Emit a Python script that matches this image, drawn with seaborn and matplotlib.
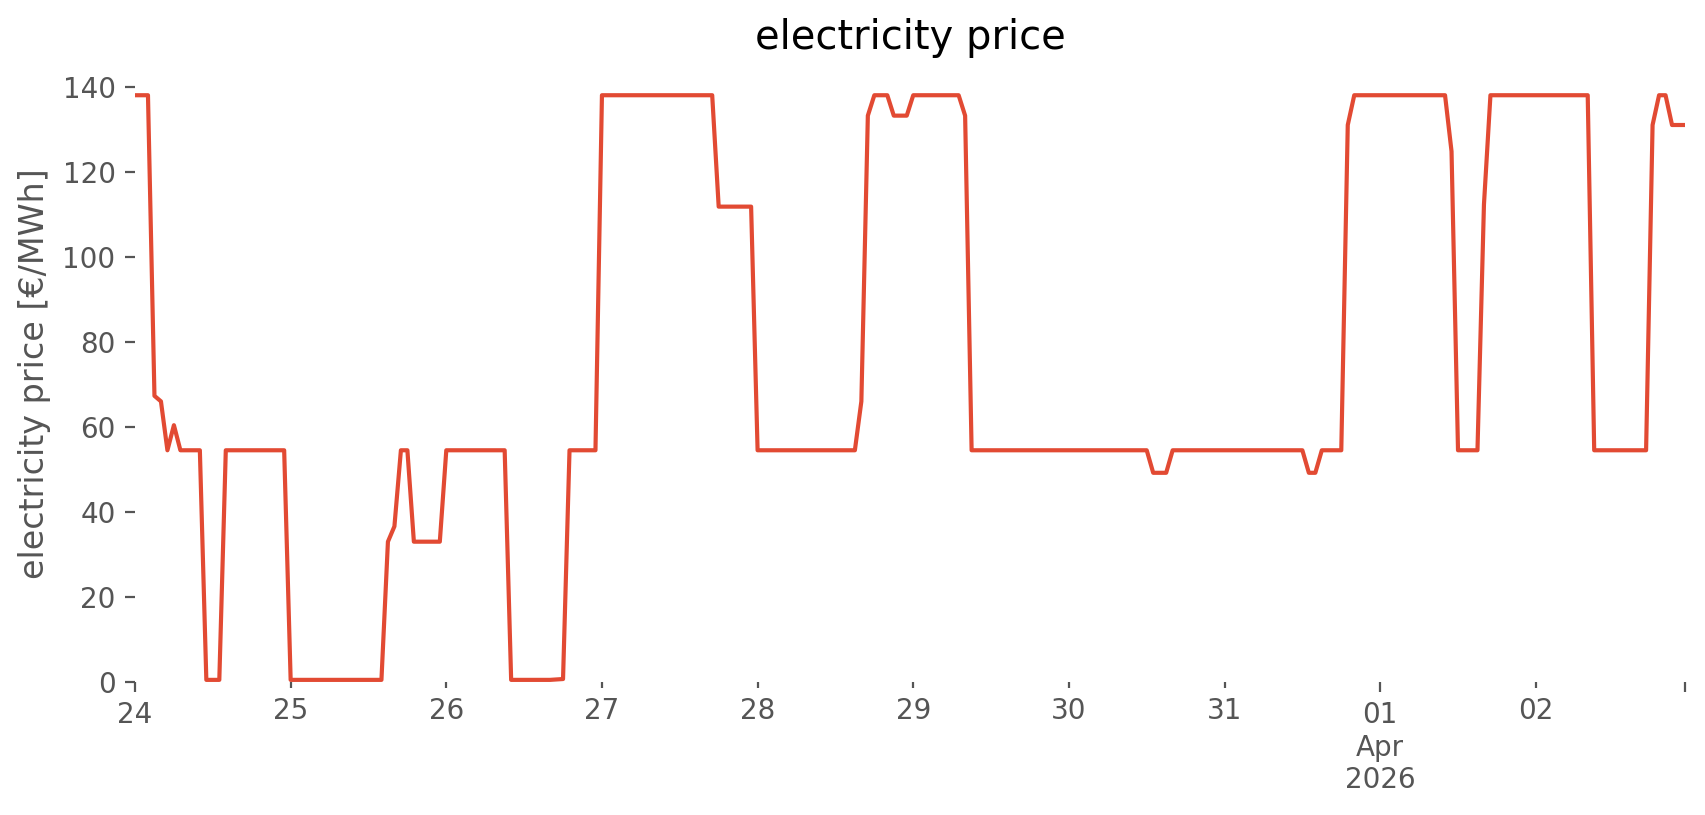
import numpy as np
import pandas as pd
import seaborn as sns
import matplotlib
matplotlib.use("Agg")
import matplotlib.pyplot as plt
import matplotlib.dates as mdates
from matplotlib.ticker import FixedLocator, FixedFormatter

# --- Data: hourly price [EUR/MWh], one list per day ---
START = "2026-03-24 00:00"
MAR24 = [138, 138, 138, 67.3, 66.0, 54.5, 60.4, 54.5, 54.5, 54.5, 54.5, 0.5,
         0.5, 0.5, 54.5, 54.5, 54.5, 54.5, 54.5, 54.5, 54.5, 54.5, 54.5, 54.5]
MAR25 = [0.5, 0.5, 0.5, 0.5, 0.5, 0.5, 0.5, 0.5, 0.5, 0.5, 0.5, 0.5,
         0.5, 0.5, 0.5, 33.0, 36.6, 54.5, 54.5, 33.0, 33.0, 33.0, 33.0, 33.0]
MAR26 = [54.5, 54.5, 54.5, 54.5, 54.5, 54.5, 54.5, 54.5, 54.5, 54.5, 0.5, 0.5,
         0.5, 0.5, 0.5, 0.5, 0.5, 0.6, 0.7, 54.5, 54.5, 54.5, 54.5, 54.5]
MAR27 = [138, 138, 138, 138, 138, 138, 138, 138, 138, 138, 138, 138,
         138, 138, 138, 138, 138, 138, 111.8, 111.8, 111.8, 111.8, 111.8, 111.8]
MAR28 = [54.5, 54.5, 54.5, 54.5, 54.5, 54.5, 54.5, 54.5, 54.5, 54.5, 54.5, 54.5,
         54.5, 54.5, 54.5, 54.5, 66.0, 133.2, 138, 138, 138, 133.2, 133.2, 133.2]
MAR29 = [138, 138, 138, 138, 138, 138, 138, 138, 133.2, 54.5, 54.5, 54.5,
         54.5, 54.5, 54.5, 54.5, 54.5, 54.5, 54.5, 54.5, 54.5, 54.5, 54.5, 54.5]
MAR30 = [54.5, 54.5, 54.5, 54.5, 54.5, 54.5, 54.5, 54.5, 54.5, 54.5, 54.5, 54.5,
         54.5, 49.2, 49.2, 49.2, 54.5, 54.5, 54.5, 54.5, 54.5, 54.5, 54.5, 54.5]
MAR31 = [54.5, 54.5, 54.5, 54.5, 54.5, 54.5, 54.5, 54.5, 54.5, 54.5, 54.5, 54.5,
         54.5, 49.2, 49.2, 54.5, 54.5, 54.5, 54.5, 131.0, 138, 138, 138, 138]
APR01 = [138, 138, 138, 138, 138, 138, 138, 138, 138, 138, 138, 124.8,
         54.5, 54.5, 54.5, 54.5, 112.3, 138, 138, 138, 138, 138, 138, 138]
APR02 = [138, 138, 138, 138, 138, 138, 138, 138, 138, 54.5, 54.5, 54.5,
         54.5, 54.5, 54.5, 54.5, 54.5, 54.5, 131.0, 138, 138, 131.0, 131.0, 131.0]

MINOR_DAYS = ["2026-03-25", "2026-03-26", "2026-03-27", "2026-03-28",
              "2026-03-29", "2026-03-30", "2026-03-31", "2026-04-02"]
MINOR_LABELS = ["25", "26", "27", "28", "29", "30", "31", "02"]
MAJOR_DAYS = ["2026-03-24", "2026-04-01"]
MAJOR_LABELS = ["24", "01\nApr\n2026", ""]

LINE_COLOR = "#E24A33"
TEXT_GRAY = "#555555"

prices = MAR24 + MAR25 + MAR26 + MAR27 + MAR28 + MAR29 + MAR30 + MAR31 + APR01 + APR02
times = pd.date_range(START, periods=len(prices), freq="h")
df = pd.DataFrame({"time": times, "price": prices})

sns.set_style("white")
plt.rcParams["font.family"] = ["DejaVu Sans"]

fig = plt.figure(figsize=(1706 / 200, 815 / 200), dpi=200)
ax = fig.add_axes([135 / 1706, 1 - 682 / 815, 1550 / 1706, (682 - 66) / 815])

sns.lineplot(data=df, x="time", y="price", color=LINE_COLOR, linewidth=1.5, ax=ax)

ax.set_xlim(times[0], times[-1])
lo, hi = min(prices), max(prices)
ax.set_ylim(0, hi + 0.05 * (hi - lo))

# pandas-like date ticks: days as minor, month start (and ends) as major
major_pos = [mdates.date2num(pd.Timestamp(d)) for d in MAJOR_DAYS] + [mdates.date2num(times[-1])]
minor_pos = [mdates.date2num(pd.Timestamp(d)) for d in MINOR_DAYS]
ax.xaxis.set_major_locator(FixedLocator(major_pos))
ax.xaxis.set_major_formatter(FixedFormatter(MAJOR_LABELS))
ax.xaxis.set_minor_locator(FixedLocator(minor_pos))
ax.xaxis.set_minor_formatter(FixedFormatter(MINOR_LABELS))
ax.set_yticks([0, 20, 40, 60, 80, 100, 120, 140])

for s in ax.spines.values():
    s.set_visible(False)
ax.grid(False)
ax.tick_params(axis="both", which="both", direction="out", colors=TEXT_GRAY,
               labelcolor=TEXT_GRAY, labelsize=10, width=0.8)
ax.tick_params(axis="both", which="major", length=3.5, pad=3.5)
ax.tick_params(axis="x", which="minor", length=2, pad=3.4)
ax.tick_params(left=True, bottom=True)
ax.tick_params(axis="x", which="minor", bottom=True)

ax.set_xlabel("")
ax.set_ylabel("electricity price [€/MWh]", fontsize=12, color=TEXT_GRAY)
ax.set_title("electricity price", fontsize=14.4, color="black")

fig.savefig("out.png", dpi=200)
